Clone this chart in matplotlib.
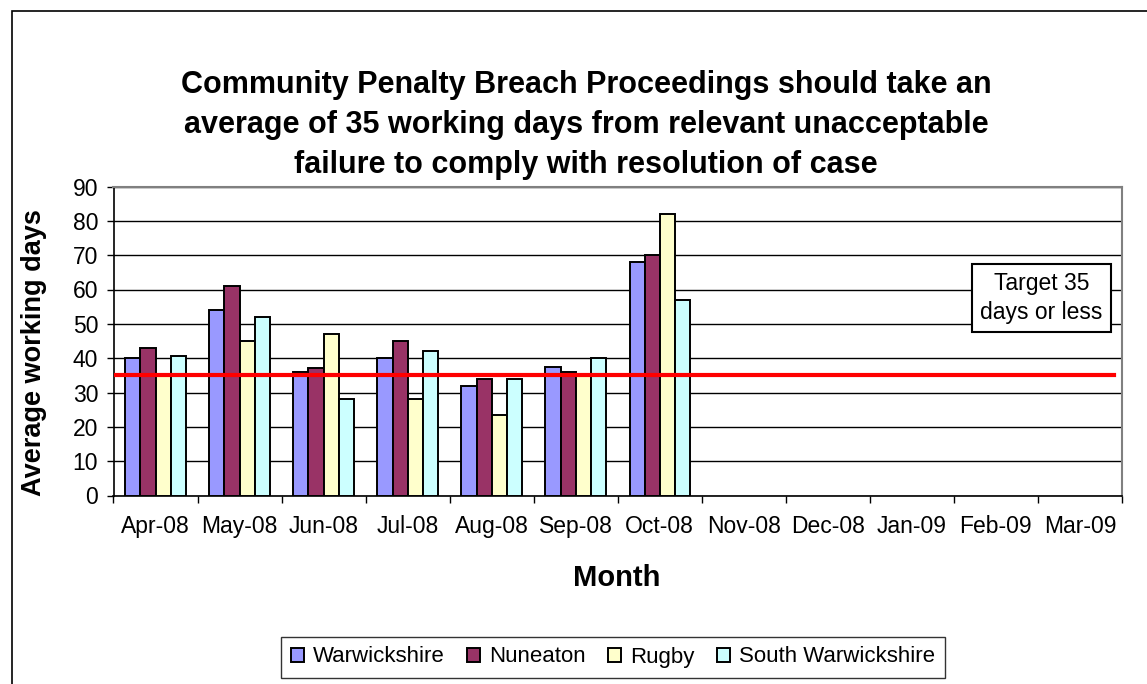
import numpy as np
import matplotlib.pyplot as plt
from matplotlib.patches import Rectangle

plt.rcParams['font.family'] = ['Liberation Sans', 'DejaVu Sans']

months = ["Apr-08", "May-08", "Jun-08", "Jul-08", "Aug-08", "Sep-08",
          "Oct-08", "Nov-08", "Dec-08", "Jan-09", "Feb-09", "Mar-09"]
warwickshire = [40, 54, 36, 40, 32, 37.5, 68]
nuneaton = [43, 61, 37, 45, 34, 36, 70]
rugby = [35, 45, 47, 28, 23.5, 35, 82]
south_warwickshire = [40.5, 52, 28, 42, 34, 40, 57]
series_names = ["Warwickshire", "Nuneaton", "Rugby", "South Warwickshire"]
series_colors = ["#9999FF", "#993366", "#FFFFCC", "#CCFFFF"]
target = 35

W, H = 1147, 684
fig = plt.figure(figsize=(W / 100, H / 100), dpi=100)

# outer chart border (left and top edges visible)
fig.patches.append(Rectangle((12 / W, -0.1), 1.2, (H - 11) / H + 0.1,
                             transform=fig.transFigure, fill=False,
                             edgecolor='black', linewidth=1.2))

ax = fig.add_axes([113.5 / W, (H - 495.5) / H, (1122 - 113.5) / W, (495.5 - 186.5) / H])

series = [warwickshire, nuneaton, rugby, south_warwickshire]
bw = 0.18
for i, (vals, name, col) in enumerate(zip(series, series_names, series_colors)):
    x = np.arange(len(vals)) + (i - 1.5) * bw
    ax.bar(x, vals, width=bw, color=col, edgecolor='black', linewidth=1.4,
           label=name, zorder=3)

ax.plot([-0.47, 11.41], [target, target], color='#FF0000', lw=3, zorder=4)

ax.set_xlim(-0.5, len(months) - 0.5)
ax.set_ylim(0, 90)
ax.set_yticks(np.arange(0, 91, 10))
ax.grid(axis='y', color='black', linewidth=1, zorder=0)

ax.set_xticks(np.arange(-0.5, len(months), 1))
ax.set_xticklabels([])
ax.set_xticks(np.arange(len(months)), minor=True)
ax.set_xticklabels(months, minor=True, fontsize=16.5)
ax.tick_params(axis='x', which='major', length=5, width=1, direction='out')
ax.tick_params(axis='x', which='minor', length=0, pad=14)
ax.tick_params(axis='y', labelsize=16.5, length=5, width=1, pad=6)

for s in ['top', 'right']:
    ax.spines[s].set_color('#808080')
    ax.spines[s].set_linewidth(1.5)
ax.spines['left'].set_linewidth(1.2)
ax.spines['bottom'].set_linewidth(1.2)

fig.text(586 / W, (H - 125) / H,
         "Community Penalty Breach Proceedings should take an\n"
         "average of 35 working days from relevant unacceptable\n"
         "failure to comply with resolution of case",
         ha='center', va='center', fontsize=22, fontweight='bold', linespacing=1.45)

fig.text(34 / W, (H - 353) / H, "Average working days", rotation=90,
         ha='center', va='center', fontsize=19.5, fontweight='bold')
fig.text(617 / W, (H - 578) / H, "Month", ha='center', va='center',
         fontsize=21, fontweight='bold')

ax.text(10.54, 57.5, "Target 35\ndays or less", ha='center', va='center',
        fontsize=16.5, linespacing=1.3, zorder=5,
        bbox=dict(boxstyle='square,pad=0.35', facecolor='white',
                  edgecolor='black', linewidth=1.5))

fig.legend(loc='center', bbox_to_anchor=(613 / W, (H - 657) / H), ncol=4,
           fontsize=16, frameon=True, fancybox=False, edgecolor='black',
           handlelength=0.6, handleheight=0.6, handletextpad=0.4,
           columnspacing=1.0, borderpad=0.45)

fig.savefig("out.png", dpi=100)
